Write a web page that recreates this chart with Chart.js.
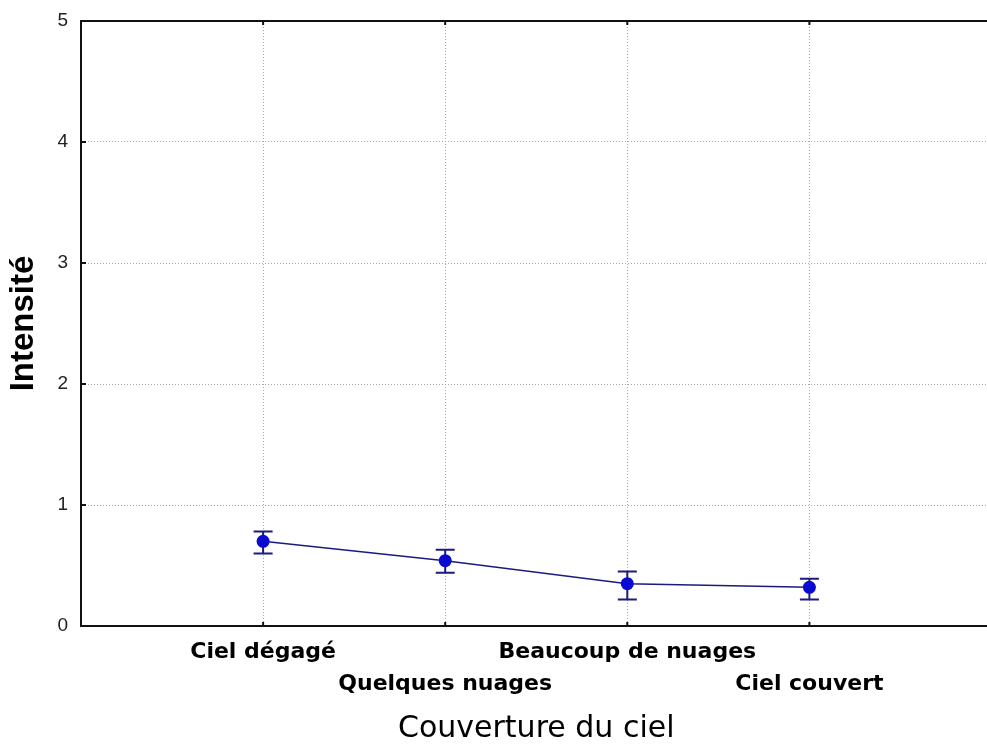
<!DOCTYPE html>
<html>
<head>
<meta charset="utf-8">
<script src="https://cdn.jsdelivr.net/npm/chart.js@4/dist/chart.umd.min.js"></script>
<style>
  html, body { margin: 0; padding: 0; background: #fff; overflow: hidden; }
  #wrap { width: 987px; height: 744px; overflow: hidden; background: #fff; }
  canvas { display: block; }
</style>
</head>
<body>
<div id="wrap"><canvas id="chart" width="998" height="744"></canvas></div>
<script>
// Sky cover categories and their positions on the horizontal axis
const categories = ['Ciel dégagé', 'Quelques nuages', 'Beaucoup de nuages', 'Ciel couvert'];
const categoryPositions = [1, 2, 3, 4];

// Mean intensity per category, with the ends of its error bar
const meanIntensity = [0.70, 0.54, 0.35, 0.32];
const upperLimit = [0.78, 0.63, 0.45, 0.39];
const lowerLimit = [0.60, 0.44, 0.22, 0.22];

// Vertical axis ticks
const yTicks = [0, 1, 2, 3, 4, 5];

const gridColor = '#a8a8a8';
const frameColor = '#111111';
const lineColor = '#1a1a80';
const markerColor = '#0a0ad0';

// Vertical error bars with caps, drawn under the line and markers
const errorBars = {
  id: 'errorBars',
  beforeDatasetsDraw(chart) {
    const { ctx, scales: { x, y } } = chart;
    ctx.save();
    ctx.strokeStyle = lineColor;
    ctx.lineWidth = 2;
    categoryPositions.forEach((pos, i) => {
      const px = x.getPixelForValue(pos);
      const top = y.getPixelForValue(upperLimit[i]);
      const bot = y.getPixelForValue(lowerLimit[i]);
      ctx.beginPath();
      ctx.moveTo(px, top); ctx.lineTo(px, bot);
      ctx.moveTo(px - 9.5, top); ctx.lineTo(px + 9.5, top);
      ctx.moveTo(px - 9.5, bot); ctx.lineTo(px + 9.5, bot);
      ctx.stroke();
    });
    ctx.restore();
  }
};

// Top frame line and the small inward tick marks on the frame
const frame = {
  id: 'frame',
  afterDraw(chart) {
    const { ctx, chartArea: { left, right, top, bottom }, scales: { x, y } } = chart;
    ctx.save();
    ctx.strokeStyle = frameColor;
    ctx.lineWidth = 2;
    ctx.beginPath();
    ctx.moveTo(left - 1, top);
    ctx.lineTo(right, top);
    categoryPositions.forEach(pos => {
      const px = x.getPixelForValue(pos);
      ctx.moveTo(px, bottom); ctx.lineTo(px, bottom - 4);
      ctx.moveTo(px, top); ctx.lineTo(px, top + 4);
    });
    yTicks.forEach(v => {
      const py = y.getPixelForValue(v);
      ctx.moveTo(left, py); ctx.lineTo(left + 5, py);
    });
    ctx.stroke();
    ctx.restore();
  }
};

new Chart(document.getElementById('chart'), {
  type: 'line',
  data: {
    datasets: [{
      data: categoryPositions.map((pos, i) => ({ x: pos, y: meanIntensity[i] })),
      borderColor: lineColor,
      borderWidth: 1.5,
      pointStyle: 'circle',
      pointRadius: 6.5,
      pointBackgroundColor: markerColor,
      pointBorderColor: markerColor,
      pointBorderWidth: 0,
      tension: 0,
      fill: false
    }]
  },
  options: {
    responsive: false,
    animation: false,
    layout: { padding: { top: 21, right: 0, bottom: 0, left: 0 } },
    plugins: {
      legend: { display: false },
      tooltip: { enabled: false }
    },
    scales: {
      x: {
        type: 'linear',
        min: 0,
        max: 5,
        afterBuildTicks: s => { s.ticks = categoryPositions.map(v => ({ value: v })); },
        afterFit: s => { s.height = 118; s.paddingLeft = 0; s.paddingRight = 0; },
        grid: { color: gridColor, lineWidth: 1, drawTicks: false },
        border: { display: true, color: frameColor, width: 2, dash: [1, 2] },
        ticks: {
          autoSkip: false,
          maxRotation: 0,
          minRotation: 0,
          padding: 10,
          color: '#000',
          font: { family: 'DejaVu Sans', weight: 'bold', size: 22, lineHeight: 32 / 22 },
          callback: (value, index) => index % 2 === 0 ? categories[index] : ['', categories[index]]
        },
        title: {
          display: true,
          text: 'Couverture du ciel',
          color: '#000',
          font: { family: 'DejaVu Sans', size: 30, lineHeight: 1 },
          padding: { top: 0, bottom: 0 }
        }
      },
      y: {
        min: 0,
        max: 5,
        afterBuildTicks: s => { s.ticks = yTicks.map(v => ({ value: v })); },
        afterFit: s => { s.width = 81; s.paddingTop = 0; s.paddingBottom = 0; },
        grid: {
          color: c => (c.tick && (c.tick.value === 0 || c.tick.value === 5)) ? 'rgba(0,0,0,0)' : gridColor,
          lineWidth: 1,
          drawTicks: false
        },
        border: { display: true, color: frameColor, width: 2, dash: [1, 2] },
        ticks: {
          padding: 13,
          color: '#222',
          font: { family: 'Liberation Sans', size: 19 }
        },
        title: {
          display: true,
          text: 'Intensité',
          color: '#000',
          font: { family: 'Liberation Sans', weight: 'bold', size: 33, lineHeight: 1 },
          padding: { top: 7, bottom: 0 }
        }
      }
    }
  },
  plugins: [errorBars, frame]
});
</script>
</body>
</html>
